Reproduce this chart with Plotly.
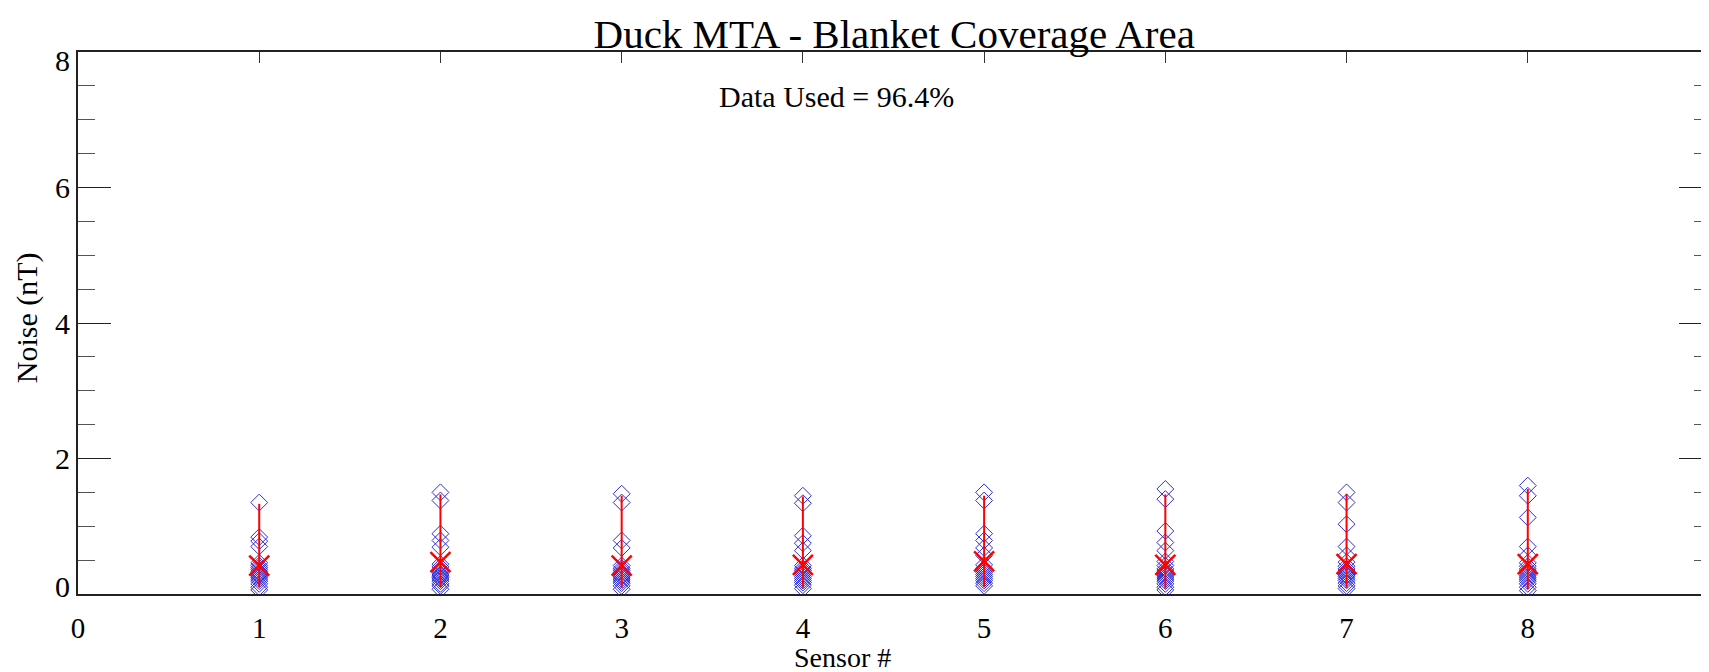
import plotly.graph_objects as go

SENSORS = [1, 2, 3, 4, 5, 6, 7, 8]
# per-sensor noise estimates (nT)
NOISE_S1 = [1.35, 0.84, 0.78, 0.70, 0.46, 0.42, 0.39, 0.36, 0.33, 0.31, 0.29, 0.27, 0.25, 0.22, 0.19, 0.15, 0.10, 0.06]
NOISE_S2 = [1.50, 1.38, 0.89, 0.79, 0.69, 0.44, 0.40, 0.36, 0.33, 0.30, 0.28, 0.26, 0.24, 0.22, 0.19, 0.15, 0.12, 0.07]
NOISE_S3 = [1.48, 1.35, 0.79, 0.68, 0.42, 0.38, 0.35, 0.32, 0.29, 0.27, 0.25, 0.22, 0.19, 0.16, 0.12, 0.07]
NOISE_S4 = [1.45, 1.34, 0.86, 0.75, 0.64, 0.42, 0.38, 0.35, 0.32, 0.29, 0.26, 0.23, 0.20, 0.17, 0.13, 0.08]
NOISE_S5 = [1.50, 1.38, 0.89, 0.79, 0.68, 0.57, 0.43, 0.38, 0.35, 0.32, 0.29, 0.26, 0.23, 0.20, 0.16, 0.12]
NOISE_S6 = [1.55, 1.40, 0.93, 0.76, 0.64, 0.48, 0.42, 0.37, 0.34, 0.31, 0.28, 0.25, 0.22, 0.19, 0.15, 0.10, 0.06]
NOISE_S7 = [1.50, 1.35, 1.03, 0.70, 0.57, 0.47, 0.41, 0.37, 0.34, 0.31, 0.28, 0.26, 0.23, 0.20, 0.16, 0.12, 0.08]
NOISE_S8 = [1.60, 1.45, 1.13, 0.70, 0.57, 0.46, 0.41, 0.37, 0.34, 0.31, 0.28, 0.25, 0.22, 0.19, 0.15, 0.10, 0.05]
NOISE = [NOISE_S1, NOISE_S2, NOISE_S3, NOISE_S4, NOISE_S5, NOISE_S6, NOISE_S7, NOISE_S8]

MEAN = [0.42, 0.47, 0.42, 0.43, 0.48, 0.43, 0.44, 0.44]
RANGE_LO = [0.10, 0.10, 0.09, 0.09, 0.10, 0.08, 0.09, 0.07]
RANGE_HI = [1.33, 1.47, 1.45, 1.44, 1.45, 1.47, 1.48, 1.55]

X_TICKS = [0, 1, 2, 3, 4, 5, 6, 7, 8]
Y_TICKS = [0, 2, 4, 6, 8]

TITLE = "Duck MTA - Blanket Coverage Area"
NOTE = "Data Used = 96.4%"
XTITLE = "Sensor #"
YTITLE = "Noise (nT)"
FONT = "Liberation Serif"

fig = go.Figure()

# blue open diamonds: all the individual noise values
xs, ys = [], []
for s, vals in zip(SENSORS, NOISE):
    xs += [s] * len(vals)
    ys += vals
fig.add_trace(go.Scatter(x=xs, y=ys, mode="markers", showlegend=False,
                         marker=dict(symbol="diamond-open", size=13, color="rgb(45,45,215)",
                                     line=dict(width=1, color="rgb(45,45,215)"))))

# red vertical range lines
lx, ly = [], []
for s, lo, hi in zip(SENSORS, RANGE_LO, RANGE_HI):
    lx += [s, s, None]
    ly += [lo, hi, None]
fig.add_trace(go.Scatter(x=lx, y=ly, mode="lines", showlegend=False,
                         line=dict(color="red", width=2)))

# red X at the mean
fig.add_trace(go.Scatter(x=SENSORS, y=MEAN, mode="markers", showlegend=False,
                         marker=dict(symbol="x-thin", size=20, color="red",
                                     line=dict(width=2.5, color="red"))))

# dummy trace so the overlay axes (top ticks / right ticks) get drawn
fig.add_trace(go.Scatter(x=[None], y=[None], xaxis="x2", yaxis="y2", showlegend=False))

# y tick labels: IDL-style, the end labels are pulled inside the axis range
for v in Y_TICKS:
    shift = -8 if v == max(Y_TICKS) else (8 if v == min(Y_TICKS) else 0)
    fig.add_annotation(x=0, xref="paper", y=v, yref="y", text=str(v), showarrow=False,
                       xanchor="right", yanchor="middle", xshift=-6, yshift=shift,
                       font=dict(family=FONT, size=30, color="black"))

fig.add_annotation(x=0.465, y=0.918, xref="paper", yref="paper", text=NOTE, showarrow=False,
                   xanchor="center", yanchor="middle",
                   font=dict(family=FONT, size=30, color="black"))
fig.add_annotation(x=0.4685, y=-0.117, xref="paper", yref="paper", text=XTITLE, showarrow=False,
                   xanchor="center", yanchor="middle",
                   font=dict(family=FONT, size=28, color="black"))
fig.add_annotation(x=-0.0315, y=0.51, xref="paper", yref="paper", text=YTITLE, showarrow=False,
                   xanchor="center", yanchor="middle", textangle=-90,
                   font=dict(family=FONT, size=30, color="black"))

# page body adds an 8px margin, so the figure is sized 8px smaller to fit the window
fig.update_layout(
    width=1701, height=664,
    margin=dict(l=70, r=0, t=44, b=78, autoexpand=False),
    paper_bgcolor="white", plot_bgcolor="white",
    font=dict(family=FONT, color="black", size=30),
    title=dict(text=TITLE, x=0.521, xanchor="center", y=0.961, yanchor="middle",
               font=dict(family=FONT, size=41, color="black")),
    xaxis=dict(range=[0, 9], tickvals=X_TICKS, ticks="", showgrid=False, zeroline=False,
               showline=True, linecolor="#222", linewidth=1.5, mirror=True,
               ticklabelstandoff=7, tickfont=dict(family=FONT, size=29)),
    yaxis=dict(range=[0, 8], tickvals=Y_TICKS, ticks="inside", ticklen=33, tickcolor="#222", tickwidth=1,
               showticklabels=False,
               showgrid=False, zeroline=False, showline=True, linecolor="#222", linewidth=1.5,
               minor=dict(dtick=0.5, ticks="inside", ticklen=17, tickcolor="#555", tickwidth=1)),
    xaxis2=dict(overlaying="x", side="top", range=[0, 9], tickvals=list(range(0, 10)),
                ticks="inside", ticklen=11, tickcolor="#333", showticklabels=False,
                showline=False, showgrid=False, zeroline=False),
    yaxis2=dict(overlaying="y", side="right", range=[0, 8], tickvals=Y_TICKS, ticks="inside", ticklen=30,
                tickcolor="#222", showticklabels=False, showline=False, showgrid=False, zeroline=False,
                minor=dict(dtick=0.5, ticks="inside", ticklen=15, tickcolor="#555")),
)

fig.write_html("out.html")
